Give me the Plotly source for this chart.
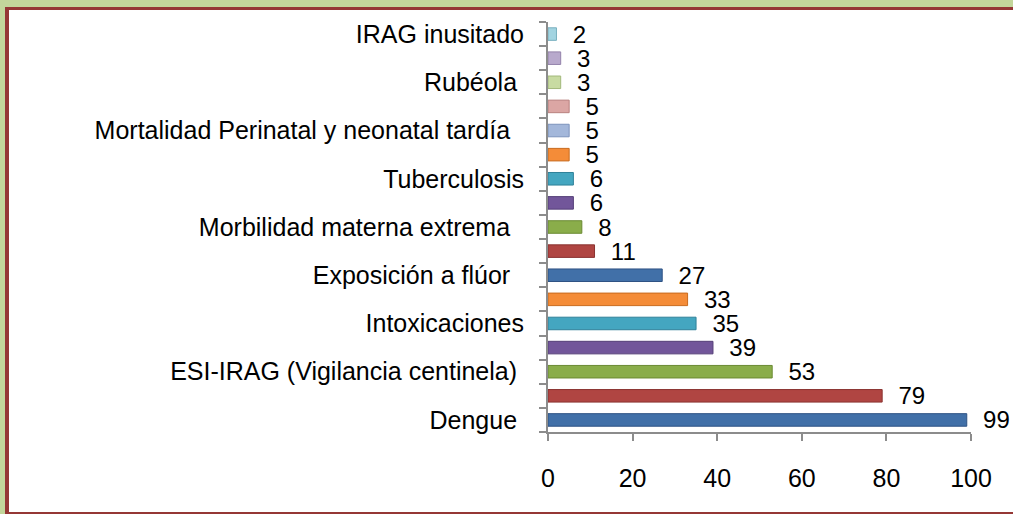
import plotly.graph_objects as go

# ---- data (bottom -> top) ----
categories = [
    "Dengue ", "c2", "ESI-IRAG (Vigilancia centinela) ", "c4", "Intoxicaciones",
    "c6", "Exposición a flúor  ", "c8", "Morbilidad materna extrema  ", "c10",
    "Tuberculosis", "c12", "Mortalidad Perinatal y neonatal tardía  ", "c14",
    "Rubéola ", "c16", "IRAG inusitado",
]
tick_labels = [
    "Dengue ", "", "ESI-IRAG (Vigilancia centinela) ", "", "Intoxicaciones",
    "", "Exposición a flúor  ", "", "Morbilidad materna extrema  ", "",
    "Tuberculosis", "", "Mortalidad Perinatal y neonatal tardía  ", "",
    "Rubéola ", "", "IRAG inusitado",
]
values = [99, 79, 53, 39, 35, 33, 27, 11, 8, 6, 6, 5, 5, 5, 3, 3, 2]
x_ticks = [0, 20, 40, 60, 80, 100]

bar_colors = [
    "#4170A8", "#B04542", "#8AAD4A", "#72569A", "#44A6C0", "#F48C38",
    "#4170A8", "#B04542", "#8AAD4A", "#72569A", "#44A6C0", "#F48C38",
    "#A3B7DA", "#DBA6A4", "#C8DBA2", "#B8A9CC", "#A2D4E1",
]
edge_colors = [
    "#2E5284", "#8A3230", "#6A8A32", "#553F78", "#2F8199", "#C86A1E",
    "#2E5284", "#8A3230", "#6A8A32", "#553F78", "#2F8199", "#C86A1E",
    "#7C93BC", "#B8807E", "#A2B87A", "#9382AA", "#78AFBE",
]

W, H = 1013, 514
L, R, T, B = 548, 42, 22, 82
pw, ph = W - L - R, H - T - B

def px(x):
    return (x - L) / pw

def py(y):
    return (H - B - y) / ph

font = "Liberation Sans, Arial, sans-serif"
fs = 25

fig = go.Figure(
    go.Bar(
        y=categories,
        x=values,
        orientation="h",
        marker=dict(color=bar_colors, line=dict(color=edge_colors, width=1)),
        text=[f"  {v}" for v in values],
        textposition="outside",
        constraintext="none",
        textfont=dict(size=24, color="#000000", family=font),
        cliponaxis=False,
        hoverinfo="x+y",
    )
)

fig.update_layout(
    width=W,
    height=H,
    margin=dict(l=L, r=R, t=T, b=B, autoexpand=False),
    paper_bgcolor="#FFFFFF",
    plot_bgcolor="#FFFFFF",
    bargap=0.48,
    showlegend=False,
    font=dict(family=font, size=fs, color="#000000"),
    uniformtext=dict(minsize=24, mode="show"),
    xaxis=dict(
        range=[0, 100],
        tickvals=x_ticks,
        ticks="outside",
        ticklen=7,
        tickcolor="#8C8C8C",
        tickwidth=2,
        showgrid=False,
        zeroline=False,
        showline=True,
        linecolor="#8C8C8C",
        linewidth=2,
        ticklabelstandoff=16,
        tickfont=dict(size=fs),
        automargin=False,
    ),
    yaxis=dict(
        type="category",
        categoryorder="array",
        categoryarray=categories,
        tickmode="array",
        tickvals=categories,
        ticktext=tick_labels,
        tickson="boundaries",
        ticks="outside",
        ticklen=7,
        tickcolor="#8C8C8C",
        tickwidth=2,
        showgrid=False,
        zeroline=False,
        showline=True,
        linecolor="#8C8C8C",
        linewidth=2,
        ticklabelstandoff=17,
        tickfont=dict(size=fs),
        automargin=False,
    ),
    shapes=[
        # outer green frame
        dict(type="rect", xref="paper", yref="paper", x0=px(0), x1=px(W), y0=py(0), y1=py(7),
             fillcolor="#C3D69B", line=dict(width=0), layer="above"),
        dict(type="rect", xref="paper", yref="paper", x0=px(0), x1=px(5), y0=py(0), y1=py(H),
             fillcolor="#C3D69B", line=dict(width=0), layer="above"),
        # dark red border
        dict(type="rect", xref="paper", yref="paper", x0=px(5), x1=px(W), y0=py(7), y1=py(10),
             fillcolor="#953735", line=dict(width=0), layer="above"),
        dict(type="rect", xref="paper", yref="paper", x0=px(5), x1=px(9), y0=py(7), y1=py(H),
             fillcolor="#953735", line=dict(width=0), layer="above"),
        dict(type="rect", xref="paper", yref="paper", x0=px(5), x1=px(W), y0=py(512), y1=py(H),
             fillcolor="#953735", line=dict(width=0), layer="above"),
    ],
)

fig.write_html(
    "out.html",
    config={"displayModeBar": False},
    post_script="document.body.style.margin='0';document.body.style.overflow='hidden';",
)
